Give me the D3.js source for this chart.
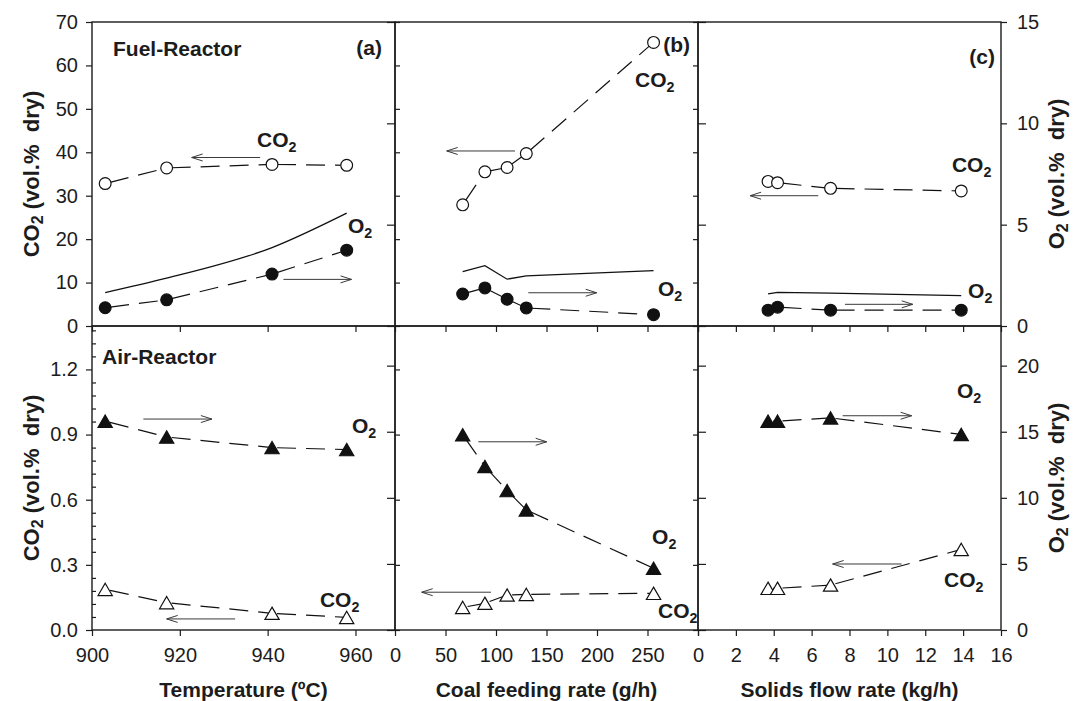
<!DOCTYPE html>
<html>
<head>
<meta charset="utf-8">
<script src="https://cdn.jsdelivr.net/npm/d3@7"></script>
<style>
  body { margin: 0; background: #fff; }
  svg { display: block; }
  text { font-family: 'Liberation Sans', Arial, Helvetica, sans-serif; fill: #1c1c1c; }
</style>
</head>
<body>
<svg id="chart" width="1075" height="701"></svg>
<script>
// ---------------- data ----------------
// (a) temperature series
const tempA      = [903, 917, 941, 958];
const fuelCO2_A  = [32.8, 36.4, 37.2, 37.0];   // vol.% (left axis)
const fuelO2_A   = [0.90, 1.29, 2.56, 3.74];   // vol.% (right axis)
const eqO2_A     = [1.65, 2.36, 3.87, 5.57];   // solid line, right axis
const airO2_A    = [15.8, 14.6, 13.8, 13.65];
const airCO2_A   = [0.187, 0.126, 0.077, 0.058];

// (b) coal feeding rate series
const coalB      = [67, 89, 111, 130, 256];
const fuelCO2_B  = [27.9, 35.5, 36.5, 39.7, 65.3];
const fuelO2_B   = [1.58, 1.88, 1.32, 0.89, 0.56];
const eqO2_B     = [2.68, 2.98, 2.31, 2.47, 2.73];
const airO2_B    = [14.77, 12.37, 10.55, 9.09, 4.67];
const airCO2_B   = [0.104, 0.123, 0.161, 0.164, 0.169];

// (c) solids flow rate series
const solidsC    = [3.7, 4.2, 7.0, 13.9];
const fuelCO2_C  = [33.3, 33.0, 31.7, 31.1];
const fuelO2_C   = [0.78, 0.93, 0.78, 0.78];
const eqO2_C     = [1.58, 1.66, 1.62, 1.50];
const airO2_C    = [15.8, 15.8, 16.05, 14.8];
const airCO2_C   = [0.192, 0.192, 0.207, 0.371];

// axis ticks
const tempTicks    = [900, 920, 940, 960];
const coalTicks    = [0, 50, 100, 150, 200, 250];
const solidsTicks  = [0, 2, 4, 6, 8, 10, 12, 14, 16];
const fuelCO2Ticks = [0, 10, 20, 30, 40, 50, 60, 70];
const fuelO2Ticks  = [0, 5, 10, 15];
const airCO2Ticks  = [0.0, 0.3, 0.6, 0.9, 1.2];
const airCO2Minor  = [0.06, 0.12, 0.18, 0.24, 0.36, 0.42, 0.48, 0.54, 0.66, 0.72, 0.78, 0.84,
                      0.96, 1.02, 1.08, 1.14, 1.26, 1.32, 1.38];
const airO2Ticks   = [0, 5, 10, 15, 20];

// ---------------- layout ----------------
const svg = d3.select('#chart');
const colEdges = [92, 395, 698, 1001];
const rowEdges = [22, 326, 630];
const INK = '#1c1c1c';
const TICK_FONT = 20;

const xA = d3.scaleLinear().domain([900, 969]).range([colEdges[0], colEdges[1]]);
const xB = d3.scaleLinear().domain([0, 300]).range([colEdges[1], colEdges[2]]);
const xC = d3.scaleLinear().domain([0, 16]).range([colEdges[2], colEdges[3]]);

const yFuelCO2 = d3.scaleLinear().domain([0, 70]).range([rowEdges[1], rowEdges[0]]);
const yFuelO2  = d3.scaleLinear().domain([0, 15]).range([rowEdges[1], rowEdges[0]]);
const yAirCO2  = d3.scaleLinear().domain([0, 1.4]).range([rowEdges[2], rowEdges[1]]);
const yAirO2   = d3.scaleLinear().domain([0, 23]).range([rowEdges[2], rowEdges[1]]);

// ---------------- axes ----------------
function styleAxis(g, fontSize) {
  g.select('.domain').remove();
  g.selectAll('line').attr('stroke', INK).attr('stroke-width', 1.2);
  g.selectAll('text').attr('font-size', fontSize).attr('fill', INK)
    .style('font-family', "'Liberation Sans', Arial, sans-serif");
}
function addAxis(axis, tx, ty, fontSize) {
  const g = svg.append('g').attr('transform', `translate(${tx},${ty})`).call(axis);
  styleAxis(g, fontSize || TICK_FONT);
  return g;
}
const noLabel = () => '';

// outer left axes
addAxis(d3.axisLeft(yFuelCO2).tickValues(fuelCO2Ticks).tickSize(6).tickPadding(8), colEdges[0], 0);
addAxis(d3.axisLeft(yAirCO2).tickValues(airCO2Ticks).tickFormat(d3.format('.1f')).tickSize(6).tickPadding(8), colEdges[0], 0);
addAxis(d3.axisRight(yAirCO2).tickValues(airCO2Minor).tickFormat(noLabel).tickSize(4), colEdges[0], 0);

// outer right axes
addAxis(d3.axisRight(yFuelO2).tickValues(fuelO2Ticks).tickSize(6).tickPadding(10), colEdges[3], 0);
addAxis(d3.axisRight(yAirO2).tickValues(airO2Ticks).tickSize(6).tickPadding(10), colEdges[3], 0);

// ticks on the shared interior frame lines
[[colEdges[1], 'right', 'left'], [colEdges[2], 'left', 'right']].forEach(([x, co2Side, o2Side]) => {
  const co2A = co2Side === 'right' ? d3.axisRight : d3.axisLeft;
  const o2A  = o2Side === 'right' ? d3.axisRight : d3.axisLeft;
  addAxis(co2A(yFuelCO2).tickValues(fuelCO2Ticks).tickFormat(noLabel).tickSize(5), x, 0);
  addAxis(o2A(yFuelO2).tickValues(fuelO2Ticks).tickFormat(noLabel).tickSize(8), x, 0);
  addAxis(co2A(yAirCO2).tickValues(airCO2Ticks).tickFormat(noLabel).tickSize(5), x, 0);
  addAxis(o2A(yAirO2).tickValues(airO2Ticks).tickFormat(noLabel).tickSize(8), x, 0);
});

// bottom axes (labelled on the lower row, ticks only between the rows)
const xAxes = [
  [xA, tempTicks, tempTicks],
  [xB, coalTicks.concat([300]), coalTicks],
  [xC, solidsTicks, solidsTicks]
];
xAxes.forEach(([sc, ticks, labelled]) => {
  addAxis(d3.axisBottom(sc).tickValues(ticks).tickFormat(noLabel).tickSize(6), 0, rowEdges[1]);
  addAxis(d3.axisBottom(sc).tickValues(ticks)
    .tickFormat(d => labelled.includes(d) ? d : '').tickSize(6).tickPadding(12), 0, rowEdges[2]);
});

// panel frames
for (let r = 0; r < 2; r++) {
  for (let c = 0; c < 3; c++) {
    svg.append('rect')
      .attr('x', colEdges[c]).attr('y', rowEdges[r])
      .attr('width', colEdges[c + 1] - colEdges[c])
      .attr('height', rowEdges[r + 1] - rowEdges[r])
      .attr('fill', 'none').attr('stroke', INK).attr('stroke-width', 1.4);
  }
}

// ---------------- marks ----------------
const plot = svg.append('g');

function dashedSegments(xs, ys, sx, sy) {
  for (let i = 0; i < xs.length - 1; i++) {
    plot.append('line')
      .attr('x1', sx(xs[i])).attr('y1', sy(ys[i]))
      .attr('x2', sx(xs[i + 1])).attr('y2', sy(ys[i + 1]))
      .attr('stroke', '#111').attr('stroke-width', 1.2)
      .attr('stroke-dasharray', '19,10').attr('stroke-dashoffset', -5);
  }
}
function solidLine(xs, ys, sx, sy, curve) {
  const line = d3.line().x(d => sx(d[0])).y(d => sy(d[1])).curve(curve || d3.curveLinear);
  plot.append('path')
    .attr('d', line(xs.map((x, i) => [x, ys[i]])))
    .attr('fill', 'none').attr('stroke', '#111').attr('stroke-width', 1.3);
}
function circles(xs, ys, sx, sy, filled) {
  xs.forEach((x, i) => {
    plot.append('circle')
      .attr('cx', sx(x)).attr('cy', sy(ys[i])).attr('r', 5.9)
      .attr('fill', filled ? '#111' : '#fff')
      .attr('stroke', '#111').attr('stroke-width', 1.2);
  });
}
const triSize = 88;
const triShift = Math.sqrt(triSize / (Math.sqrt(3) * 3)) / 2;
function triangles(xs, ys, sx, sy, filled) {
  const sym = d3.symbol().type(d3.symbolTriangle).size(triSize);
  xs.forEach((x, i) => {
    plot.append('path')
      .attr('d', sym())
      .attr('transform', `translate(${sx(x)},${sy(ys[i]) + triShift})`)
      .attr('fill', filled ? '#111' : '#fff')
      .attr('stroke', '#111').attr('stroke-width', 1.2);
  });
}

// Fuel reactor (top row)
solidLine(tempA, eqO2_A, xA, yFuelO2, d3.curveMonotoneX);
solidLine(coalB, eqO2_B, xB, yFuelO2);
solidLine(solidsC, eqO2_C, xC, yFuelO2);

dashedSegments(tempA, fuelCO2_A, xA, yFuelCO2);
dashedSegments(tempA, fuelO2_A, xA, yFuelO2);
dashedSegments(coalB, fuelCO2_B, xB, yFuelCO2);
dashedSegments(coalB, fuelO2_B, xB, yFuelO2);
dashedSegments(solidsC, fuelCO2_C, xC, yFuelCO2);
dashedSegments(solidsC, fuelO2_C, xC, yFuelO2);

circles(tempA, fuelCO2_A, xA, yFuelCO2, false);
circles(tempA, fuelO2_A, xA, yFuelO2, true);
circles(coalB, fuelCO2_B, xB, yFuelCO2, false);
circles(coalB, fuelO2_B, xB, yFuelO2, true);
circles(solidsC, fuelCO2_C, xC, yFuelCO2, false);
circles(solidsC, fuelO2_C, xC, yFuelO2, true);

// Air reactor (bottom row)
dashedSegments(tempA, airO2_A, xA, yAirO2);
dashedSegments(tempA, airCO2_A, xA, yAirCO2);
dashedSegments(coalB, airO2_B, xB, yAirO2);
dashedSegments(coalB, airCO2_B, xB, yAirCO2);
dashedSegments(solidsC, airO2_C, xC, yAirO2);
dashedSegments(solidsC, airCO2_C, xC, yAirCO2);

triangles(tempA, airO2_A, xA, yAirO2, true);
triangles(tempA, airCO2_A, xA, yAirCO2, false);
triangles(coalB, airO2_B, xB, yAirO2, true);
triangles(coalB, airCO2_B, xB, yAirCO2, false);
triangles(solidsC, airO2_C, xC, yAirO2, true);
triangles(solidsC, airCO2_C, xC, yAirCO2, false);

// ---------------- axis-pointing arrows ----------------
// [x scale, y scale, x from, x to, y]
const arrows = [
  [xA, yFuelCO2, 938.3, 922.7, 38.8],
  [xA, yFuelO2, 943.6, 959.1, 2.30],
  [xB, yFuelCO2, 118.8, 51.2, 40.3],
  [xB, yFuelO2, 132, 199.7, 1.64],
  [xC, yFuelCO2, 6.35, 2.75, 30.0],
  [xC, yFuelO2, 7.76, 11.34, 1.07],
  [xA, yAirO2, 911.7, 927.3, 15.96],
  [xA, yAirCO2, 932.6, 917.0, 0.051],
  [xB, yAirO2, 82.5, 150.2, 14.24],
  [xB, yAirCO2, 95, 26.4, 0.174],
  [xC, yAirO2, 7.64, 11.28, 16.21],
  [xC, yAirCO2, 10.75, 7.11, 0.304]
];
arrows.forEach(([sx, sy, x0, x1, yv]) => {
  const a = sx(x0), b = sx(x1), y = sy(yv);
  const dir = Math.sign(b - a);
  plot.append('path')
    .attr('d', `M${a},${y}H${b}M${b - dir * 11},${y - 3.5}L${b},${y}L${b - dir * 11},${y + 3.5}`)
    .attr('fill', 'none').attr('stroke', '#3a3a3a').attr('stroke-width', 1);
});

// ---------------- text ----------------
const txt = svg.append('g').attr('font-weight', 'bold');
const LABEL_FONT = 21;

function chem(x, y, base, sub, size) {
  const t = txt.append('text').attr('x', x).attr('y', y).attr('font-size', size || LABEL_FONT);
  t.append('tspan').text(base);
  t.append('tspan').text(sub).attr('font-size', (size || LABEL_FONT) * 0.68).attr('dy', 5);
  return t;
}

// series labels: [x scale, y scale (left axis of the row), x, y, base]
const seriesLabels = [
  [xA, yFuelCO2, 937.6, 41.2, 'CO'],
  [xA, yFuelCO2, 958.3, 21.4, 'O'],
  [xB, yFuelCO2, 237.6, 55.0, 'CO'],
  [xB, yFuelCO2, 260.4, 6.9, 'O'],
  [xC, yFuelCO2, 13.41, 35.5, 'CO'],
  [xC, yFuelCO2, 14.26, 6.45, 'O'],
  [xA, yAirCO2, 959.2, 0.907, 'O'],
  [xA, yAirCO2, 951.9, 0.106, 'CO'],
  [xB, yAirCO2, 254.5, 0.396, 'O'],
  [xB, yAirCO2, 260.4, 0.055, 'CO'],
  [xC, yAirCO2, 13.67, 1.069, 'O'],
  [xC, yAirCO2, 12.99, 0.198, 'CO']
];
seriesLabels.forEach(([sx, sy, x, y, base]) => chem(sx(x), sy(y), base, '2'));

// reactor and panel labels
txt.append('text').attr('x', 113).attr('y', 56).attr('font-size', LABEL_FONT).text('Fuel-Reactor');
txt.append('text').attr('x', 102).attr('y', 364).attr('font-size', LABEL_FONT).text('Air-Reactor');
txt.append('text').attr('x', 382).attr('y', 55).attr('font-size', LABEL_FONT).attr('text-anchor', 'end').text('(a)');
txt.append('text').attr('x', 690).attr('y', 52).attr('font-size', LABEL_FONT).attr('text-anchor', 'end').text('(b)');
txt.append('text').attr('x', 995).attr('y', 64).attr('font-size', LABEL_FONT).attr('text-anchor', 'end').text('(c)');

// axis titles
function yTitle(x, yc, base) {
  const t = txt.append('text')
    .attr('transform', `translate(${x},${yc}) rotate(-90)`)
    .attr('text-anchor', 'middle').attr('font-size', 22);
  t.append('tspan').text(base);
  t.append('tspan').text('2').attr('font-size', 16).attr('dy', 4);
  t.append('tspan').text(' (vol.%\u00a0 dry)').attr('dy', -4);
}
yTitle(39, (rowEdges[0] + rowEdges[1]) / 2, 'CO');
yTitle(39, (rowEdges[1] + rowEdges[2]) / 2, 'CO');
yTitle(1064, (rowEdges[0] + rowEdges[1]) / 2, 'O');
yTitle(1064, (rowEdges[1] + rowEdges[2]) / 2, 'O');

const xTitles = ['Temperature (ºC)', 'Coal feeding rate (g/h)', 'Solids flow rate (kg/h)'];
xTitles.forEach((label, i) => {
  txt.append('text')
    .attr('x', (colEdges[i] + colEdges[i + 1]) / 2).attr('y', 697)
    .attr('text-anchor', 'middle').attr('font-size', 21).text(label);
});
</script>
</body>
</html>
